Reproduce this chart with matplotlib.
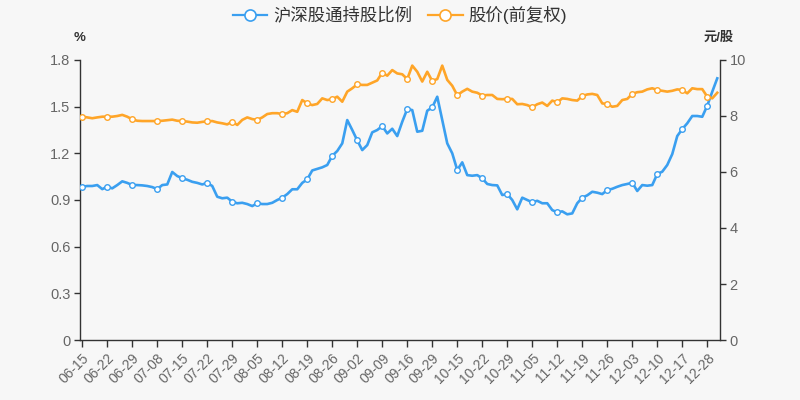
import matplotlib
matplotlib.use("Agg")
import matplotlib.pyplot as plt
from matplotlib.lines import Line2D
import numpy as np

plt.rcParams['font.family'] = ['Liberation Sans', 'Noto Sans CJK SC', 'DejaVu Sans']

tick_labels = ["06-15", "06-22", "06-29", "07-08", "07-15", "07-22", "07-29", "08-05",
               "08-12", "08-19", "08-26", "09-02", "09-09", "09-16", "09-29", "10-15",
               "10-22", "10-29", "11-05", "11-12", "11-19", "11-26", "12-03", "12-10",
               "12-17", "12-28"]

hold_pct = [0.985, 0.99, 0.99, 0.996, 0.97, 0.985, 0.975, 0.996, 1.02, 1.01,
            0.996, 0.996, 0.994, 0.99, 0.983, 0.97, 0.996, 1.0, 1.08, 1.054,
            1.04, 1.03, 1.017, 1.01, 1.0, 1.01, 0.99, 0.921, 0.911, 0.915,
            0.889, 0.879, 0.882, 0.874, 0.861, 0.879, 0.874, 0.874, 0.882, 0.90,
            0.915, 0.938, 0.969, 0.969, 1.01, 1.033, 1.09, 1.10, 1.11, 1.125,
            1.184, 1.215, 1.264, 1.414, 1.35, 1.283, 1.221, 1.253, 1.335, 1.35,
            1.375, 1.328, 1.358, 1.311, 1.403, 1.485, 1.478, 1.339, 1.345, 1.474,
            1.495, 1.564, 1.414, 1.264, 1.20, 1.093, 1.142, 1.06, 1.056, 1.06,
            1.039, 1.003, 0.996, 0.994, 0.932, 0.938, 0.90, 0.84, 0.915, 0.90,
            0.885, 0.895, 0.879, 0.879, 0.835, 0.821, 0.827, 0.808, 0.814, 0.879,
            0.915, 0.93, 0.953, 0.947, 0.938, 0.964, 0.972, 0.985, 0.996, 1.003,
            1.011, 0.958, 0.996, 0.992, 0.996, 1.067, 1.082, 1.125, 1.195, 1.311,
            1.356, 1.393, 1.44, 1.44, 1.435, 1.506, 1.596, 1.682]

price = [7.975, 7.95, 7.92, 7.95, 7.975, 7.975, 7.975, 8.0, 8.04, 7.975,
         7.88, 7.83, 7.82, 7.82, 7.82, 7.82, 7.83, 7.85, 7.87, 7.83,
         7.82, 7.80, 7.77, 7.76, 7.79, 7.81, 7.82, 7.77, 7.74, 7.70,
         7.80, 7.68, 7.86, 7.95, 7.89, 7.86, 7.95, 8.07, 8.10, 8.10,
         8.07, 8.10, 8.21, 8.15, 8.57, 8.45, 8.39, 8.43, 8.63, 8.57,
         8.60, 8.69, 8.51, 8.87, 8.99, 9.13, 9.11, 9.11, 9.19, 9.27,
         9.55, 9.44, 9.64, 9.52, 9.49, 9.32, 9.80, 9.58, 9.23, 9.58,
         9.25, 9.32, 9.80, 9.29, 9.08, 8.74, 8.87, 8.97, 8.87, 8.83,
         8.73, 8.75, 8.75, 8.61, 8.60, 8.61, 8.61, 8.42, 8.43, 8.39,
         8.31, 8.42, 8.48, 8.36, 8.55, 8.49, 8.63, 8.61, 8.57, 8.55,
         8.71, 8.77, 8.79, 8.75, 8.45, 8.43, 8.33, 8.36, 8.57, 8.61,
         8.79, 8.85, 8.87, 8.95, 8.99, 8.93, 8.90, 8.87, 8.90, 8.95,
         8.93, 8.81, 8.99, 8.96, 8.96, 8.69, 8.63, 8.83]

series_names = ['沪深股通持股比例', '股价(前复权)']
label_step = 5
left_ticks = [0, 0.3, 0.6, 0.9, 1.2, 1.5, 1.8]
left_tick_labels = ['0', '0.3', '0.6', '0.9', '1.2', '1.5', '1.8']
right_ticks = [0, 2, 4, 6, 8, 10]

BLUE = '#3a9ff0'
ORANGE = '#ffa528'
BG = '#f7f7f7'
AX = '#333333'
TXT = '#666666'

fig = plt.figure(figsize=(8, 4), dpi=100, facecolor=BG)
ax = fig.add_axes([0.1, 0.15, 0.8, 0.7])
ax.set_facecolor(BG)
ax2 = ax.twinx()

x = np.arange(len(hold_pct))
ax.plot(x, hold_pct, color=BLUE, lw=1.9, marker='o', markevery=label_step,
        markersize=4.0, markerfacecolor='white', markeredgecolor=BLUE,
        markeredgewidth=1.0, zorder=3)
ax2.plot(x, price, color=ORANGE, lw=1.9, marker='o', markevery=label_step,
         markersize=4.0, markerfacecolor='white', markeredgecolor=ORANGE,
         markeredgewidth=1.0, zorder=3)

ax.set_xlim(-0.45, len(hold_pct) - 0.45)
ax.set_ylim(0, 1.8)
ax2.set_ylim(0, 10)

ticks_pos = list(range(0, label_step * len(tick_labels), label_step))
ax.set_xticks(ticks_pos)
ax.set_xticklabels(tick_labels, rotation=45, ha='right', va='top',
                   rotation_mode='anchor', color=TXT, fontsize=10)
ax.set_yticks(left_ticks)
ax.set_yticklabels(left_tick_labels, color=TXT, fontsize=10.5)
ax2.set_yticks(right_ticks)
ax2.set_yticklabels([str(t) for t in right_ticks], color=TXT, fontsize=10.5)

for a in (ax, ax2):
    a.spines['top'].set_visible(False)
    for s in ('left', 'right', 'bottom'):
        a.spines[s].set_color(AX)
        a.spines[s].set_linewidth(1.0)
ax.spines['right'].set_visible(False)
ax2.spines['left'].set_visible(False)
ax2.spines['bottom'].set_visible(False)

ax.tick_params(axis='x', length=5, width=1, color=AX, pad=3)
ax.tick_params(axis='y', length=4, width=1, color=AX, pad=3)
ax2.tick_params(axis='y', length=4, width=1, color=AX, pad=3)

fig.text(0.1, 0.905, '%', ha='center', va='center', fontsize=9.5, color='#333333', fontweight='bold')
fig.text(0.898, 0.905, '元/股', ha='center', va='center', fontsize=9.5, color='#333333', fontweight='bold')

handles = [Line2D([0], [0], color=c, lw=1.6, marker='o', markersize=8,
                  markerfacecolor='white', markeredgecolor=c, markeredgewidth=1.2)
           for c in (BLUE, ORANGE)]
fig.legend(handles=handles, labels=series_names, loc='upper center',
           bbox_to_anchor=(0.5, 1.025), ncol=2, frameon=False, fontsize=12.5,
           handlelength=2.0, handletextpad=0.35, columnspacing=0.9,
           labelcolor='#333333')

fig.savefig('out.png', dpi=100, facecolor=BG)
